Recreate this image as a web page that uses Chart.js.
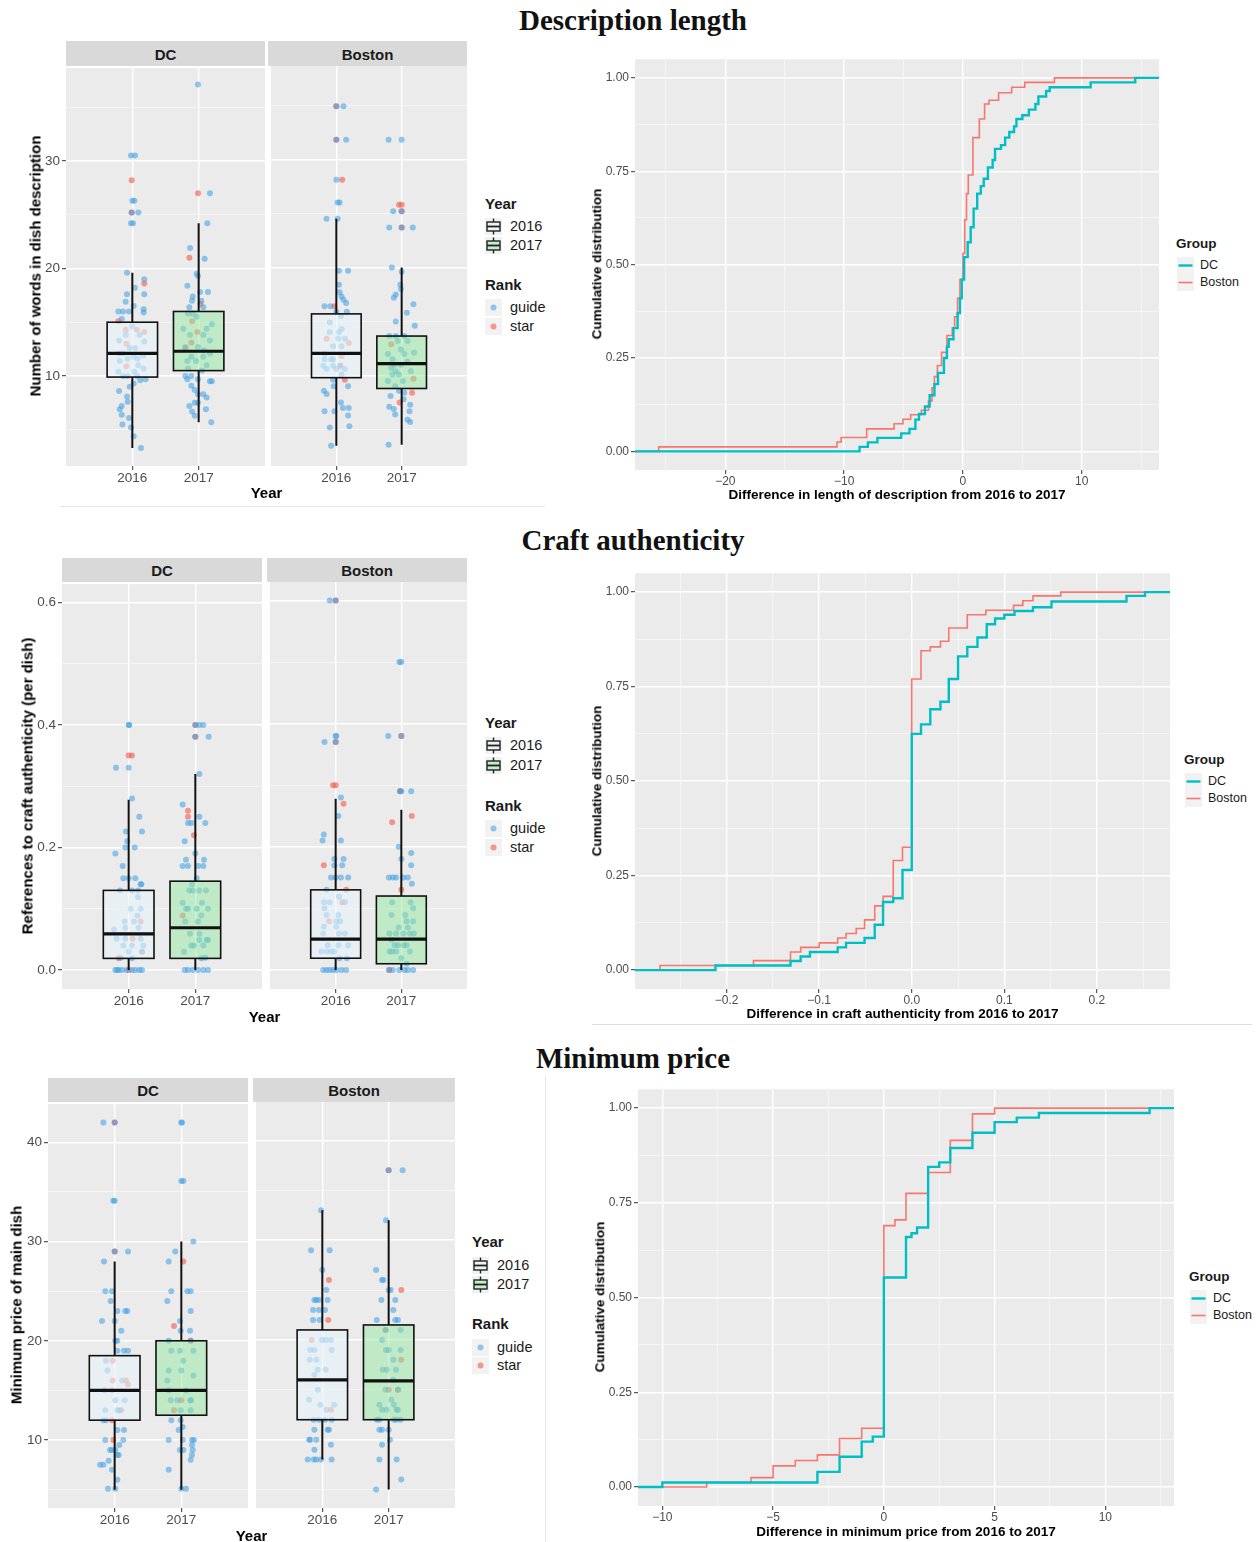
<!DOCTYPE html>
<html>
<head>
<meta charset="utf-8">
<title>Menu descriptions, craft authenticity and prices, 2016–2017</title>
<script src="https://cdn.jsdelivr.net/npm/chart.js@4.4.1/dist/chart.umd.min.js"></script>
<style>
  html, body { margin: 0; padding: 0; background: #fff; }
  body { position: relative; width: 1259px; height: 1542px; overflow: hidden;
         font-family: 'Liberation Sans', Arial, Helvetica, sans-serif; color: #1a1a1a; }
  canvas { position: absolute; }
  .t { position: absolute; white-space: nowrap; line-height: 1; }
</style>
</head>
<body>
<script>
Chart.defaults.font.family = "'Liberation Sans', Arial, Helvetica, sans-serif";

// ---------- shared categories ----------
const YEARS = ['2016', '2017'];
const FACETS = ['DC', 'Boston'];
const GROUPS = ['DC', 'Boston'];
const RANKS = ['guide', 'star'];

// ---------- Description length ----------
// box statistics per year: [lower whisker, Q1, median, Q3, upper whisker]
const wordsBoxDC = [[3.3, 9.9, 12.1, 15.0, 19.6], [5.7, 10.5, 12.3, 16.0, 24.2]];
const wordsBoxBoston = [[3.5, 9.8, 12.05, 15.7, 24.5], [3.6, 8.8, 11.1, 13.65, 20.0]];
// dishes: [horizontal jitter, words]
const wordsDC16G = [[-0.02,30.5],[0.04,30.5],[0,26.3],[0.03,26.3],[-0.01,25.2],[0.09,25.2],[0.01,24.2],[-0.02,24.2],[-0.08,19.6],[0.18,19.0],[0.04,18.2],[-0.08,17.6],[0.18,17.6],[-0.1,16.9],[0.02,16.5],[0.17,16.2],[-0.21,16.0],[-0.14,16.0],[-0.05,16.0],[0.17,15.9],[-0.16,15.3],[0,14.6],[-0.1,13.8],[0.11,13.8],[-0.2,13.3],[0.18,13.2],[-0.04,12.6],[0.04,12.6],[-0.2,12.1],[-0.14,12.1],[0.16,11.9],[0.02,11.8],[-0.07,11.6],[0.08,11.6],[-0.19,11.4],[0.09,11.0],[0.17,10.7],[-0.21,10.4],[0.03,10.4],[-0.14,10.0],[-0.07,10.0],[0.07,10.0],[0.2,9.7],[0.12,9.6],[0.02,9.3],[-0.04,9.0],[-0.2,8.6],[-0.08,8.1],[-0.07,7.6],[-0.16,7.2],[-0.19,6.9],[-0.16,6.4],[-0.05,6.1],[-0.15,5.5],[-0.02,5.2],[0.02,4.4],[0.13,3.3]];
const wordsDC16S = [[-0.01,28.2],[-0.01,25.2],[0.18,18.6],[-0.21,15.1],[-0.1,14.3],[0.07,14.3],[0.18,14.1],[-0.09,13.0],[-0.09,10.9]];
const wordsDC17G = [[-0.01,37.1],[0.17,27.0],[0.13,24.2],[-0.13,21.9],[0.09,20.9],[-0.03,19.5],[-0.01,19.3],[-0.17,18.4],[0.02,17.8],[0.14,17.8],[-0.09,17.4],[-0.1,17.0],[0.04,17.0],[-0.14,16.4],[0.07,16.4],[-0.16,15.8],[-0.09,15.8],[-0.03,15.5],[0.2,14.8],[-0.23,14.4],[0.12,14.4],[-0.13,13.8],[0.07,13.8],[0.17,13.3],[-0.2,12.7],[-0.01,12.7],[0.08,12.4],[0.17,12.1],[-0.11,11.8],[0.07,11.8],[-0.17,11.4],[-0.04,11.4],[0.12,11.0],[-0.16,10.7],[0.05,10.5],[-0.2,10.0],[-0.11,10.0],[-0.17,9.7],[-0.01,9.7],[0.17,9.5],[0.2,9.5],[-0.11,9.1],[-0.06,8.7],[-0.01,8.3],[0.07,8.3],[0.12,8.0],[-0.06,7.5],[-0.01,7.5],[-0.14,7.2],[0.11,6.9],[-0.1,6.7],[-0.06,6.3],[0.19,5.7]];
const wordsDC17S = [[-0.01,27.0],[-0.14,21.0],[0.03,16.7],[-0.1,15.1],[-0.02,14.1],[-0.11,13.1],[-0.2,12.6]];
const wordsBos16G = [[0,34.9],[0.11,34.9],[0,31.8],[0.15,31.8],[0,28.1],[0.02,26.0],[0.05,26.0],[-0.15,24.5],[0.02,24.5],[0.04,19.7],[0.18,19.7],[0.04,18.4],[0.05,17.7],[0.08,17.3],[0.11,17.0],[0.15,16.7],[-0.18,16.4],[-0.09,16.4],[0,15.9],[0.16,15.9],[0.07,15.5],[-0.1,14.9],[0.08,14.3],[-0.1,14.0],[0.04,14.0],[0.03,13.4],[0.13,13.4],[-0.05,12.7],[0.08,12.7],[-0.18,12.0],[-0.08,11.5],[-0.18,11.5],[-0.05,11.5],[-0.2,10.9],[-0.05,10.9],[0.06,10.9],[-0.15,10.6],[0,10.6],[0.13,10.6],[0.08,10.1],[-0.05,9.6],[-0.04,9.0],[0.18,9.0],[-0.19,8.6],[-0.15,8.3],[0.07,7.5],[0.1,7.0],[0.19,7.0],[-0.18,6.7],[-0.03,6.7],[0.18,6.3],[0.2,5.3],[-0.1,5.2],[-0.08,3.5]];
const wordsBos16S = [[0,34.9],[0,31.8],[0.09,28.1],[-0.03,16.4],[-0.15,13.4],[0.19,13.0],[0.08,11.8],[0.06,10.9],[0.13,9.6]];
const wordsBos17G = [[-0.2,31.8],[0,31.8],[0,25.2],[-0.13,25.2],[-0.19,23.7],[0,23.7],[0.17,23.7],[-0.15,20.0],[0,19.6],[-0.02,18.4],[-0.01,18.0],[-0.09,17.5],[-0.12,17.2],[0.18,16.6],[0.08,15.8],[-0.09,15.0],[0.2,14.6],[-0.19,13.65],[-0.09,13.65],[0.04,13.65],[-0.06,13.2],[0.09,13.2],[-0.01,12.4],[0.19,12.1],[-0.21,12.0],[0.04,12.0],[-0.14,11.5],[0.09,11.3],[-0.11,11.0],[-0.01,11.0],[-0.16,10.7],[-0.09,10.4],[0.14,10.4],[-0.14,10.1],[-0.04,10.1],[-0.21,9.5],[0.02,9.5],[-0.1,9.0],[-0.04,8.6],[0.04,8.4],[-0.17,8.1],[0.03,7.8],[0.13,7.3],[-0.19,7.1],[-0.12,6.9],[0.12,6.7],[-0.1,6.4],[0.09,5.9],[0.13,5.7],[-0.2,3.6]];
const wordsBos17S = [[-0.04,25.8],[0,25.8],[0,25.2],[0,23.7],[-0.16,12.9],[0.18,9.7],[0.16,8.4],[-0.03,7.5]];
const wordsTicks = [10, 20, 30];
const wordsTickLabels = ['10', '20', '30'];
const wordsMinor = [5, 15, 25, 35];

// change in description length: jump positions and cumulative share after each jump
const lenDiffDCX = [-8.7,-8.0,-7.2,-5.2,-4.5,-4.0,-3.7,-3.2,-2.8,-2.4,-2.1,-1.6,-1.35,-1.2,-0.8,-0.45,-0.25,-0.1,0.1,0.4,0.65,0.9,1.2,1.5,1.75,2.1,2.5,2.7,3.2,3.55,3.9,4.3,4.5,5.0,5.55,6.1,6.35,7.0,7.3,10.75,14.5];
const lenDiffDCF = [0.012,0.024,0.036,0.048,0.06,0.085,0.10,0.12,0.15,0.18,0.21,0.25,0.28,0.30,0.33,0.37,0.41,0.46,0.52,0.56,0.60,0.65,0.69,0.71,0.73,0.76,0.78,0.81,0.82,0.84,0.855,0.87,0.89,0.90,0.915,0.93,0.95,0.965,0.975,0.988,1.0];
const lenDiffBosX = [-25.6,-10.6,-10.25,-8.1,-5.8,-5.05,-4.4,-3.5,-2.9,-2.6,-2.4,-2.15,-1.8,-1.35,-0.9,-0.7,-0.45,-0.25,0,0.15,0.3,0.45,0.84,1.38,1.82,2.2,3.0,4.1,5.2,7.7];
const lenDiffBosF = [0.012,0.025,0.037,0.06,0.074,0.086,0.098,0.11,0.135,0.17,0.20,0.23,0.265,0.31,0.33,0.36,0.41,0.46,0.53,0.62,0.69,0.74,0.84,0.89,0.93,0.94,0.96,0.975,0.988,1.0];
const lenTicks = [-20, -10, 0, 10];
const lenTickLabels = ['\u221220', '\u221210', '0', '10'];
const lenMinor = [-25, -15, -5, 5, 15];

// ---------- Craft authenticity ----------
const craftBoxDC = [[0, 0.019, 0.059, 0.13, 0.278], [0, 0.019, 0.069, 0.145, 0.32]];
const craftBoxBoston = [[0, 0.019, 0.05, 0.13, 0.278], [0, 0.01, 0.05, 0.12, 0.26]];
const craftDC16G = [[0,0.40],[0.01,0.40],[-0.19,0.33],[0,0.33],[0.05,0.28],[0.16,0.25],[-0.04,0.226],[0.2,0.226],[-0.02,0.21],[-0.05,0.20],[0.09,0.20],[-0.2,0.19],[-0.09,0.17],[-0.08,0.15],[0,0.15],[0.1,0.15],[0.18,0.14],[0.19,0.14],[-0.13,0.13],[0.05,0.13],[0.14,0.13],[0.14,0.119],[0.03,0.10],[0.18,0.10],[0.13,0.089],[-0.06,0.079],[0.08,0.079],[-0.05,0.069],[0.15,0.069],[-0.22,0.066],[-0.18,0.051],[-0.05,0.051],[0.18,0.051],[-0.08,0.04],[0.05,0.04],[0.22,0.04],[0.2,0.03],[0,0.03],[-0.12,0.02],[0.05,0.019],[-0.2,0],[-0.17,0],[-0.15,0],[-0.1,0],[-0.03,0],[0.05,0],[0.1,0],[0.16,0],[0.2,0]];
const craftDC16S = [[0.05,0.35],[0,0.35],[0.18,0.079],[0.06,0.051],[0.2,0.03],[-0.15,0.019],[0,0]];
const craftDC17G = [[0,0.40],[0.06,0.40],[0.12,0.40],[0,0.381],[0.2,0.381],[0.06,0.32],[-0.19,0.27],[0.06,0.25],[-0.11,0.24],[-0.06,0.24],[0.15,0.24],[-0.16,0.21],[0,0.19],[-0.14,0.18],[0.13,0.18],[-0.19,0.17],[-0.11,0.17],[0.04,0.17],[0.12,0.17],[0.02,0.15],[-0.05,0.14],[-0.09,0.13],[-0.04,0.13],[0.06,0.13],[0.16,0.13],[-0.19,0.11],[0.1,0.11],[-0.14,0.10],[-0.11,0.10],[0.02,0.10],[0.19,0.10],[0.09,0.089],[-0.15,0.079],[0.04,0.079],[-0.08,0.059],[0.06,0.059],[0.06,0.049],[0.17,0.049],[0.19,0.049],[-0.06,0.04],[-0.02,0.04],[0.12,0.04],[-0.17,0.03],[0.15,0.02],[0.09,0.019],[-0.16,0],[-0.11,0],[-0.04,0],[0.04,0],[0.12,0],[0.19,0]];
const craftDC17S = [[0,0.40],[0,0.381],[-0.11,0.26],[-0.11,0.25],[-0.02,0.22],[-0.19,0.089]];
const craftBos16G = [[-0.09,0.60],[0,0.60],[0,0.38],[0.01,0.38],[-0.17,0.37],[0,0.37],[0.08,0.28],[0.04,0.25],[-0.18,0.22],[-0.2,0.21],[0.08,0.21],[-0.02,0.18],[0.12,0.18],[-0.02,0.17],[0.1,0.17],[-0.07,0.15],[0,0.15],[0.08,0.15],[0.19,0.15],[-0.14,0.13],[0.05,0.119],[-0.18,0.11],[-0.09,0.11],[0.14,0.11],[-0.17,0.10],[-0.14,0.089],[0.04,0.089],[0.01,0.079],[0.07,0.079],[-0.18,0.07],[0.01,0.07],[-0.19,0.059],[0.05,0.059],[0.14,0.059],[-0.12,0.04],[0.04,0.04],[0.19,0.04],[-0.22,0.03],[-0.14,0.03],[-0.07,0.03],[-0.02,0.03],[0.06,0.019],[0.17,0.019],[-0.19,0],[-0.14,0],[-0.09,0],[-0.04,0],[0.01,0],[0.09,0],[0.16,0]];
const craftBos16S = [[0,0.60],[0,0.37],[-0.04,0.30],[0,0.30],[0.12,0.27],[-0.18,0.17],[0.16,0.13],[0.1,0.11],[-0.1,0.079]];
const craftBos17G = [[-0.03,0.50],[0,0.50],[-0.2,0.38],[0,0.38],[0,0.29],[-0.02,0.29],[0.15,0.29],[-0.04,0.20],[0.15,0.19],[0,0.18],[0.15,0.17],[-0.19,0.15],[-0.13,0.15],[-0.08,0.15],[0.03,0.15],[0.1,0.15],[0.16,0.14],[-0.14,0.11],[0.14,0.11],[0.18,0.10],[-0.15,0.089],[0.06,0.089],[0.08,0.079],[0.18,0.079],[-0.04,0.069],[0.1,0.069],[-0.18,0.059],[-0.08,0.059],[0.03,0.059],[0.13,0.059],[0.19,0.059],[-0.15,0.049],[-0.1,0.04],[-0.05,0.04],[0.04,0.04],[0.08,0.04],[-0.18,0.03],[-0.14,0.03],[-0.08,0.03],[0.13,0.03],[0,0.019],[0.08,0.01],[-0.19,0],[-0.13,0],[-0.03,0],[0.05,0],[0.1,0],[0.18,0]];
const craftBos17S = [[0,0.38],[-0.02,0.29],[0.16,0.25],[-0.14,0.24],[0,0.13],[-0.18,0]];
const craftTicks = [0, 0.2, 0.4, 0.6];
const craftTickLabels = ['0.0', '0.2', '0.4', '0.6'];
const craftMinor = [0.1, 0.3, 0.5];

const craftDiffDCX = [-0.212,-0.131,-0.12,-0.11,-0.08,-0.071,-0.051,-0.04,-0.031,-0.02,-0.01,0,0.01,0.02,0.031,0.04,0.05,0.06,0.071,0.081,0.09,0.1,0.111,0.131,0.151,0.232,0.252];
const craftDiffDCF = [0.012,0.024,0.036,0.048,0.06,0.072,0.085,0.12,0.18,0.19,0.265,0.625,0.65,0.69,0.71,0.77,0.83,0.855,0.88,0.915,0.93,0.94,0.95,0.96,0.975,0.99,1.0];
const craftDiffBosX = [-0.272,-0.171,-0.131,-0.12,-0.1,-0.08,-0.071,-0.06,-0.051,-0.04,-0.031,-0.02,-0.01,0,0.01,0.02,0.031,0.04,0.06,0.08,0.11,0.12,0.131,0.161];
const craftDiffBosF = [0.012,0.025,0.048,0.06,0.072,0.085,0.097,0.11,0.133,0.17,0.195,0.29,0.325,0.77,0.845,0.855,0.87,0.905,0.94,0.952,0.965,0.977,0.99,1.0];
const craftDiffTicks = [-0.2, -0.1, 0, 0.1, 0.2];
const craftDiffTickLabels = ['\u22120.2', '\u22120.1', '0.0', '0.1', '0.2'];
const craftDiffMinor = [-0.25, -0.15, -0.05, 0.05, 0.15, 0.25];

// ---------- Minimum price ----------
const priceBoxDC = [[5, 12, 15, 18.5, 28], [5, 12.5, 15, 20, 30]];
const priceBoxBoston = [[8, 12, 16, 21, 33], [5, 12, 15.9, 21.5, 32]];
const priceDC16G = [[-0.17,42],[0,42],[-0.02,34.1],[0,34.1],[0,29],[0.2,29],[-0.16,28],[-0.14,25],[-0.04,25],[-0.06,24],[0.04,23],[0.16,23],[0.19,23],[-0.19,22],[0,22],[0.1,21],[0.01,20],[0.04,20],[0.04,19],[0.14,19],[0.2,19],[-0.13,18],[-0.11,17],[0.11,16],[-0.15,15],[-0.04,15],[0.01,14],[0.15,14],[-0.14,13],[0.04,13],[0.07,13],[-0.17,12],[-0.13,12],[0.04,11],[0.14,11],[-0.14,10],[0.13,10],[0.07,9.5],[-0.07,9],[-0.04,9],[0.01,9],[0.04,8.5],[0.06,8.5],[-0.09,7.9],[-0.22,7.5],[-0.17,7.5],[-0.04,7],[0.04,6],[-0.1,5.1],[0.01,5.1]];
const priceDC16S = [[0,42],[0,29],[-0.03,18],[-0.03,16],[0.17,16],[0.2,15.6],[0.1,13],[-0.04,12],[-0.02,10]];
const priceDC17G = [[0,42],[0.01,42],[0,36.1],[0.03,36.1],[0.18,30],[-0.09,29],[-0.19,28],[-0.15,25],[0.09,25],[0.14,25],[-0.21,24],[0.14,23],[-0.02,22],[-0.01,21],[0.13,21],[-0.19,20],[0.14,20],[-0.15,19],[-0.02,19],[0.18,19],[0.03,18],[-0.19,17],[0,17],[0.18,16.5],[-0.21,16],[-0.19,15],[0.07,15],[-0.16,14],[-0.06,14],[0.14,14],[0.14,14],[-0.01,13],[0.14,13],[-0.15,12],[-0.01,12],[0.02,11.3],[-0.04,11],[-0.19,10],[0.02,10],[0.16,10],[0.19,10],[0.16,9.5],[-0.02,9],[0.03,9],[0.17,9],[0.16,8.5],[0.14,8],[-0.19,7],[0,5.1],[0.07,5.1]];
const priceDC17S = [[0.03,28],[-0.11,21.5],[0.14,20],[0,14],[-0.11,13]];
const priceBos16G = [[-0.02,33],[-0.17,29],[0.11,29],[0,27],[0.06,25],[-0.12,24],[-0.09,24],[-0.05,24],[0.08,24],[-0.14,23],[-0.05,23],[0.04,23],[-0.14,22],[-0.04,22],[-0.01,20],[0.05,20],[0.13,20],[-0.18,19],[-0.12,19],[0.14,19],[-0.19,18],[-0.09,18],[-0.07,17],[0.05,17],[-0.12,16.5],[-0.07,15],[-0.2,14],[-0.03,13.5],[0.18,13.5],[0.06,13],[-0.13,12],[-0.05,12],[0.04,12],[0.14,12],[-0.12,11],[0.08,11],[0.1,11],[-0.2,10],[-0.18,10],[-0.09,10],[0.13,9.5],[-0.12,9],[-0.22,8],[-0.13,8],[-0.09,8],[-0.02,8],[0.14,8]];
const priceBos16S = [[0.1,26],[0.09,22],[-0.16,20],[0.13,13]];
const priceBos17G = [[0,37],[0.21,37],[-0.04,32],[-0.19,27],[-0.1,26],[-0.08,26],[0,25],[0.03,25],[-0.11,24],[0.1,24],[0.07,23],[-0.18,22],[0.1,22],[0.14,22],[-0.04,21],[0.18,21],[-0.1,20],[-0.04,19],[0,19],[0.18,19],[0.07,18],[-0.09,17],[-0.03,17],[0.11,17],[0.07,16],[-0.05,15],[0.14,15],[0.04,14],[-0.14,13.5],[0.08,13.5],[-0.1,13],[-0.03,13],[0.12,13],[0.14,13],[-0.18,12],[-0.14,12],[0.08,12],[0.12,12],[0.18,12],[-0.14,11],[-0.1,11],[0,11],[0.02,10],[-0.1,9.5],[-0.14,8],[0.12,8],[0.19,6],[-0.19,5]];
const priceBos17S = [[0,37],[0.19,25],[-0.05,21],[0.19,18],[0,15],[0.14,15]];
const priceTicks = [10, 20, 30, 40];
const priceTickLabels = ['10', '20', '30', '40'];
const priceMinor = [5, 15, 25, 35];

const priceDiffDCX = [-10,-3,-2,-1,-0.5,0,1,1.25,1.5,2,2.5,3,4,5,6,7,12];
const priceDiffDCF = [0.012,0.04,0.08,0.12,0.133,0.553,0.66,0.67,0.685,0.845,0.857,0.895,0.935,0.963,0.975,0.987,1.0];
const priceDiffBosX = [-8,-6,-5,-4,-3,-2,-1,0,0.5,1,2,3,4,5];
const priceDiffBosF = [0.012,0.025,0.056,0.07,0.085,0.128,0.155,0.69,0.705,0.775,0.83,0.915,0.985,1.0];
const priceDiffTicks = [-10, -5, 0, 5, 10];
const priceDiffTickLabels = ['\u221210', '\u22125', '0', '5', '10'];
const priceDiffMinor = [-7.5, -2.5, 2.5, 7.5, 12.5];

// cumulative share axis
const cdfTicks = [0, 0.25, 0.5, 0.75, 1];
const cdfTickLabels = ['0.00', '0.25', '0.50', '0.75', '1.00'];
const cdfMinor = [0.125, 0.375, 0.625, 0.875];

// ---------- styling ----------
const GROUP_COLORS = ['#00BFC4', '#F8766D'];
const GROUP_WIDTHS = [2.4, 1.6];
const RANK_COLORS = ['rgba(60,158,228,0.55)', 'rgba(244,96,80,0.62)'];
const YEAR_FILLS = ['rgba(232,244,250,0.6)', 'rgba(150,232,160,0.5)'];
const BOX_WIDTH = 0.76;
const POINT_R = 3;
const PAD_T = 8, PAD_R = 6, AX_H = 30;
const TICK_COL = '#4d4d4d';

// ---------- row definitions (layout + references to the data above) ----------
const rows = [
  {
    title: 'Description length', titleY: 20,
    yTitle: 'Number of words in dish description', yTitleX: 35,
    yMin: 1.63, yMax: 38.63, yTicks: wordsTicks, yTickLabels: wordsTickLabels, yMinor: wordsMinor,
    stats: [wordsBoxDC, wordsBoxBoston],
    points: [[[wordsDC16G, wordsDC17G], [wordsDC16S, wordsDC17S]], [[wordsBos16G, wordsBos17G], [wordsBos16S, wordsBos17S]]],
    box: { top: 66, bottom: 466, strip: 25, facets: [{ left: 66, right: 265 }, { left: 268, right: 467 }],
           yearY: 492, legX: 485, legY: [203, 226, 245, 284, 307, 326] },
    diff: { xMin: -27.6, xMax: 16.5, ticks: lenTicks, labels: lenTickLabels, minor: lenMinor,
            steps: [[lenDiffDCX, lenDiffDCF], [lenDiffBosX, lenDiffBosF]],
            xTitle: 'Difference in length of description from 2016 to 2017' },
    ecdf: { left: 635, right: 1159, top: 58, bottom: 470, yTitleX: 597, xTitleY: 494, legX: 1177, legY: [244, 265, 282] }
  },
  {
    title: 'Craft authenticity', titleY: 540,
    yTitle: 'References to craft authenticity (per dish)', yTitleX: 27,
    yMin: -0.031, yMax: 0.63, yTicks: craftTicks, yTickLabels: craftTickLabels, yMinor: craftMinor,
    stats: [craftBoxDC, craftBoxBoston],
    points: [[[craftDC16G, craftDC17G], [craftDC16S, craftDC17S]], [[craftBos16G, craftBos17G], [craftBos16S, craftBos17S]]],
    box: { top: 582, bottom: 989, strip: 24, facets: [{ left: 62, right: 262 }, { left: 267, right: 467 }],
           yearY: 1016, legX: 485, legY: [722, 745, 765, 805, 828, 847] },
    diff: { xMin: -0.299, xMax: 0.279, ticks: craftDiffTicks, labels: craftDiffTickLabels, minor: craftDiffMinor,
            steps: [[craftDiffDCX, craftDiffDCF], [craftDiffBosX, craftDiffBosF]],
            xTitle: 'Difference in craft authenticity from 2016 to 2017' },
    ecdf: { left: 635, right: 1170, top: 572, bottom: 989, yTitleX: 597, xTitleY: 1013, legX: 1185, legY: [760, 781, 798] }
  },
  {
    title: 'Minimum price', titleY: 1058,
    yTitle: 'Minimum price of main dish', yTitleX: 16,
    yMin: 3.15, yMax: 43.85, yTicks: priceTicks, yTickLabels: priceTickLabels, yMinor: priceMinor,
    stats: [priceBoxDC, priceBoxBoston],
    points: [[[priceDC16G, priceDC17G], [priceDC16S, priceDC17S]], [[priceBos16G, priceBos17G], [priceBos16S, priceBos17S]]],
    box: { top: 1102, bottom: 1508, strip: 24, facets: [{ left: 48, right: 248 }, { left: 253, right: 455 }],
           yearY: 1535, legX: 472, legY: [1241, 1265, 1284, 1323, 1347, 1365] },
    diff: { xMin: -11.1, xMax: 13.1, ticks: priceDiffTicks, labels: priceDiffTickLabels, minor: priceDiffMinor,
            steps: [[priceDiffDCX, priceDiffDCF], [priceDiffBosX, priceDiffBosF]],
            xTitle: 'Difference in minimum price from 2016 to 2017' },
    ecdf: { left: 638, right: 1174, top: 1088, bottom: 1506, yTitleX: 600, xTitleY: 1531, legX: 1190, legY: [1277, 1298, 1315] }
  }
];

// ---------- helpers ----------
function addText(txt, x, y, css, mode) {
  const d = document.createElement('div');
  d.className = 't';
  d.textContent = txt;
  d.style.cssText += css;
  d.style.left = x + 'px';
  d.style.top = y + 'px';
  d.style.transform = mode === 'left' ? 'translate(0,-50%)'
    : mode === 'vert' ? 'translate(-50%,-50%) rotate(-90deg)' : 'translate(-50%,-50%)';
  document.body.appendChild(d);
  return d;
}
function addRect(x, y, w, h, color) {
  const d = document.createElement('div');
  d.style.cssText = `position:absolute;left:${x}px;top:${y}px;width:${w}px;height:${h}px;background:${color}`;
  document.body.appendChild(d);
}
function addSvg(x, y, w, h, inner) {
  const d = document.createElement('div');
  d.style.cssText = `position:absolute;left:${x}px;top:${y}px;width:${w}px;height:${h}px`;
  d.innerHTML = `<svg xmlns="http://www.w3.org/2000/svg" width="${w}" height="${h}">${inner}</svg>`;
  document.body.appendChild(d);
}
function makeCanvas(left, top, w, h) {
  const c = document.createElement('canvas');
  c.width = w; c.height = h;
  c.style.left = left + 'px'; c.style.top = top + 'px';
  c.style.width = w + 'px'; c.style.height = h + 'px';
  document.body.appendChild(c);
  return c;
}
function tickHelpers(major, labels, minor) {
  const same = (a, b) => Math.abs(a - b) < 1e-9;
  const isMajor = v => major.some(m => same(m, v));
  return {
    isMajor,
    build: s => { s.ticks = major.concat(minor).map(v => ({ value: v })); },
    label: v => { const i = major.findIndex(m => same(m, v)); return i < 0 ? '' : labels[i]; }
  };
}
function gridOpts(th, drawTicks) {
  const maj = c => c.tick && th.isMajor(c.tick.value);
  return {
    color: c => maj(c) ? '#ffffff' : 'rgba(255,255,255,0.7)',
    lineWidth: c => maj(c) ? 1.4 : 0.7,
    drawTicks: drawTicks, tickLength: 4, tickWidth: 1,
    tickColor: c => maj(c) ? '#333333' : 'rgba(0,0,0,0)'
  };
}

// grey panel background behind the grid
const panelBg = {
  id: 'panelBg',
  beforeDraw(chart) {
    const a = chart.chartArea, ctx = chart.ctx;
    ctx.save();
    ctx.fillStyle = '#ebebeb';
    ctx.fillRect(a.left, a.top, a.right - a.left, a.bottom - a.top);
    ctx.restore();
  }
};

// box-and-whisker marks placed through the chart's scales
function boxPlugin(stats) {
  return {
    id: 'boxes',
    afterDatasetsDraw(chart) {
      const xs = chart.scales.x, ys = chart.scales.y, ctx = chart.ctx;
      stats.forEach((s, i) => {
        const cx = i + 1;
        const l = xs.getPixelForValue(cx - BOX_WIDTH / 2);
        const r = xs.getPixelForValue(cx + BOX_WIDTH / 2);
        const m = xs.getPixelForValue(cx);
        const [lo, q1, med, q3, hi] = s.map(v => ys.getPixelForValue(v));
        ctx.save();
        ctx.strokeStyle = '#111';
        ctx.lineWidth = 2;
        ctx.beginPath();
        ctx.moveTo(m, lo); ctx.lineTo(m, q1);
        ctx.moveTo(m, q3); ctx.lineTo(m, hi);
        ctx.stroke();
        ctx.fillStyle = YEAR_FILLS[i];
        ctx.fillRect(l, q3, r - l, q1 - q3);
        ctx.lineWidth = 1.6;
        ctx.strokeRect(l, q3, r - l, q1 - q3);
        ctx.lineWidth = 3.2;
        ctx.beginPath();
        ctx.moveTo(l, med); ctx.lineTo(r, med);
        ctx.stroke();
        ctx.restore();
      });
    }
  };
}

function facetChart(row, fi) {
  const b = row.box, f = b.facets[fi], withY = fi === 0;
  const axW = withY ? 40 : 0;
  const w = axW + (f.right - f.left) + PAD_R, h = PAD_T + (b.bottom - b.top) + AX_H;
  const cv = makeCanvas(f.left - axW, b.top - PAD_T, w, h);
  const yt = tickHelpers(row.yTicks, row.yTickLabels, row.yMinor);
  const xt = tickHelpers([1, 2], YEARS, []);
  const toPts = sets => sets.flatMap((pts, yi) => pts.map(p => ({ x: yi + 1 + p[0], y: p[1] })));
  new Chart(cv, {
    type: 'scatter',
    data: {
      datasets: RANKS.map((r, ri) => ({
        label: r,
        data: toPts(row.points[fi][ri]),
        backgroundColor: RANK_COLORS[ri],
        borderWidth: 0, pointRadius: POINT_R, pointHoverRadius: POINT_R
      }))
    },
    options: {
      responsive: false, animation: false, devicePixelRatio: 1, events: [],
      layout: { padding: { top: PAD_T, right: PAD_R, left: 0, bottom: 0 } },
      plugins: { legend: { display: false }, tooltip: { enabled: false } },
      scales: {
        x: {
          type: 'linear', min: 0, max: 3,
          afterBuildTicks: xt.build, afterFit: s => { s.height = AX_H; },
          ticks: { autoSkip: false, maxRotation: 0, callback: xt.label, color: TICK_COL, font: { size: 13.5 }, padding: 0 },
          grid: gridOpts(xt, true), border: { display: false }
        },
        y: {
          type: 'linear', min: row.yMin, max: row.yMax,
          afterBuildTicks: yt.build, afterFit: s => { s.width = axW; },
          ticks: { display: withY, autoSkip: false, callback: yt.label, color: TICK_COL, font: { size: 13.5 }, padding: 2 },
          grid: gridOpts(yt, withY), border: { display: false }
        }
      }
    },
    plugins: [panelBg, boxPlugin(row.stats[fi])]
  });
}

function ecdfChart(row) {
  const e = row.ecdf, d = row.diff, axW = 48;
  const w = axW + (e.right - e.left) + PAD_R, h = PAD_T + (e.bottom - e.top) + AX_H;
  const cv = makeCanvas(e.left - axW, e.top - PAD_T, w, h);
  const xt = tickHelpers(d.ticks, d.labels, d.minor);
  const yt = tickHelpers(cdfTicks, cdfTickLabels, cdfMinor);
  const series = (xs, fs) => [{ x: d.xMin, y: 0 }]
    .concat(xs.map((x, i) => ({ x: x, y: fs[i] })), [{ x: d.xMax, y: 1 }]);
  new Chart(cv, {
    type: 'line',
    data: {
      datasets: GROUPS.map((g, gi) => ({
        label: g,
        data: series(d.steps[gi][0], d.steps[gi][1]),
        borderColor: GROUP_COLORS[gi], borderWidth: GROUP_WIDTHS[gi],
        stepped: 'before', pointRadius: 0, pointHoverRadius: 0, fill: false, tension: 0
      }))
    },
    options: {
      responsive: false, animation: false, devicePixelRatio: 1, events: [],
      layout: { padding: { top: PAD_T, right: PAD_R, left: 0, bottom: 0 } },
      plugins: { legend: { display: false }, tooltip: { enabled: false } },
      scales: {
        x: {
          type: 'linear', min: d.xMin, max: d.xMax,
          afterBuildTicks: xt.build, afterFit: s => { s.height = AX_H; },
          ticks: { autoSkip: false, maxRotation: 0, callback: xt.label, color: TICK_COL, font: { size: 12 }, padding: 0 },
          grid: gridOpts(xt, true), border: { display: false }
        },
        y: {
          type: 'linear', min: -0.05, max: 1.05,
          afterBuildTicks: yt.build, afterFit: s => { s.width = axW; },
          ticks: { autoSkip: false, callback: yt.label, color: TICK_COL, font: { size: 12 }, padding: 2 },
          grid: gridOpts(yt, true), border: { display: false }
        }
      }
    },
    plugins: [panelBg]
  });
}

function boxLegend(b) {
  const x = b.legX, [yT, y16, y17, rT, yG, yS] = b.legY;
  addText('Year', x, yT, 'font-weight:bold;font-size:15px;', 'left');
  [y16, y17].forEach((yy, i) => {
    addSvg(x, yy - 8.5, 17, 17,
      `<rect width="17" height="17" fill="#f2f2f2"/>` +
      `<line x1="8.5" y1="0.5" x2="8.5" y2="4" stroke="#222" stroke-width="1.4"/>` +
      `<line x1="8.5" y1="13" x2="8.5" y2="16.5" stroke="#222" stroke-width="1.4"/>` +
      `<rect x="2" y="4" width="13" height="9" fill="${YEAR_FILLS[i]}" stroke="#222" stroke-width="1.4"/>` +
      `<line x1="2" y1="8.5" x2="15" y2="8.5" stroke="#222" stroke-width="1.8"/>`);
    addText(YEARS[i], x + 25, yy, 'font-size:14.5px;', 'left');
  });
  addText('Rank', x, rT, 'font-weight:bold;font-size:15px;', 'left');
  [yG, yS].forEach((yy, i) => {
    addSvg(x, yy - 8.5, 17, 17,
      `<rect width="17" height="17" fill="#f2f2f2"/><circle cx="8.5" cy="8.5" r="${POINT_R}" fill="${RANK_COLORS[i]}"/>`);
    addText(RANKS[i], x + 25, yy, 'font-size:14.5px;', 'left');
  });
}

function groupLegend(e) {
  const x = e.legX;
  addText('Group', x - 1, e.legY[0], 'font-weight:bold;font-size:13.5px;', 'left');
  GROUPS.forEach((g, i) => {
    addSvg(x, e.legY[i + 1] - 8.5, 17, 17,
      `<rect width="17" height="17" fill="#f2f2f2"/>` +
      `<line x1="1.5" y1="8.5" x2="15.5" y2="8.5" stroke="${GROUP_COLORS[i]}" stroke-width="${GROUP_WIDTHS[i]}"/>`);
    addText(g, x + 23, e.legY[i + 1], 'font-size:12.5px;', 'left');
  });
}

// ---------- draw ----------
addRect(60, 506, 485, 1, '#e4e4e4');
addRect(592, 1024, 660, 1, '#dcdcdc');
addRect(545, 1076, 1, 466, '#e6e6e6');

rows.forEach(row => {
  addText(row.title, 633, row.titleY,
    "font-family:'Liberation Serif','Times New Roman',serif;font-weight:bold;font-size:29px;color:#111;");

  const b = row.box;
  b.facets.forEach((f, i) => {
    addRect(f.left, b.top - b.strip, f.right - f.left, b.strip, '#d9d9d9');
    addText(FACETS[i], (f.left + f.right) / 2, b.top - b.strip / 2, 'font-weight:bold;font-size:15px;color:#1a1a1a;');
    facetChart(row, i);
  });
  addText(row.yTitle, row.yTitleX, (b.top + b.bottom) / 2, 'font-weight:bold;font-size:15px;color:#000;', 'vert');
  addText('Year', (b.facets[0].left + b.facets[1].right) / 2, b.yearY, 'font-weight:bold;font-size:15px;color:#000;');
  boxLegend(b);

  const e = row.ecdf;
  ecdfChart(row);
  addText('Cumulative distribution', e.yTitleX, (e.top + e.bottom) / 2, 'font-weight:bold;font-size:13.5px;color:#000;', 'vert');
  addText(row.diff.xTitle, (e.left + e.right) / 2, e.xTitleY + 1, 'font-weight:bold;font-size:13.5px;color:#000;');
  groupLegend(e);
});
</script>
</body>
</html>
